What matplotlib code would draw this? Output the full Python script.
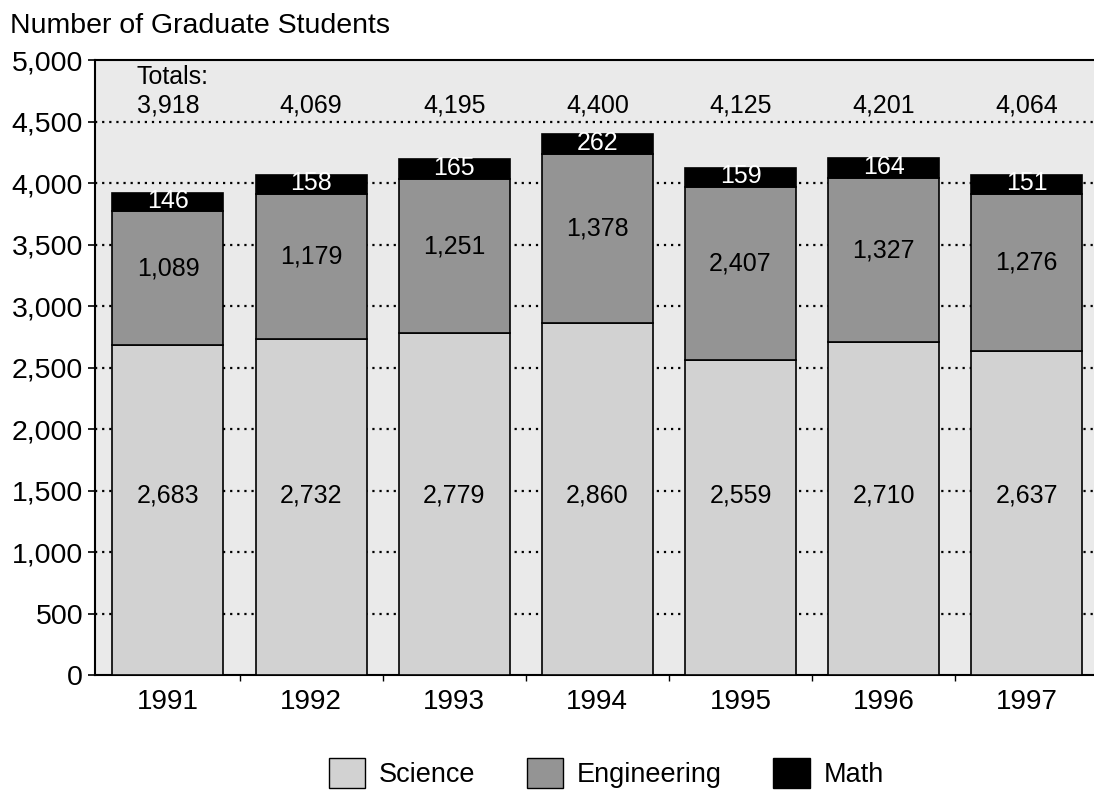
import matplotlib.pyplot as plt
from matplotlib.patches import Patch

plt.rcParams['font.family'] = ['Liberation Sans', 'DejaVu Sans']

years = ['1991', '1992', '1993', '1994', '1995', '1996', '1997']
science = [2683, 2732, 2779, 2860, 2559, 2710, 2637]
engineering = [1089, 1179, 1251, 1378, 1407, 1327, 1276]
math = [146, 158, 165, 162, 159, 164, 151]
# labels as printed on the original chart
science_labels = ['2,683', '2,732', '2,779', '2,860', '2,559', '2,710', '2,637']
eng_labels = ['1,089', '1,179', '1,251', '1,378', '2,407', '1,327', '1,276']
math_labels = ['146', '158', '165', '262', '159', '164', '151']
totals = ['3,918', '4,069', '4,195', '4,400', '4,125', '4,201', '4,064']

bg = '#eaeaea'
sci_col = '#d2d2d2'
eng_col = '#949494'

fig = plt.figure(figsize=(10.94, 7.97), dpi=100)
ax = fig.add_axes([0.0868, 0.153, 0.9132, 0.7717])
ax.set_facecolor(bg)

x = list(range(len(years)))
w = 0.775
eng_bottom = science
math_bottom = [s + e for s, e in zip(science, engineering)]

ax.bar(x, science, w, color=sci_col, edgecolor='black', linewidth=1.2, zorder=3)
ax.bar(x, engineering, w, bottom=eng_bottom, color=eng_col, edgecolor='black', linewidth=1.2, zorder=3)
ax.bar(x, math, w, bottom=math_bottom, color='black', edgecolor='black', linewidth=1.2, zorder=3)

fs = 18
for i in x:
    ax.text(i, 1460, science_labels[i], ha='center', va='center', fontsize=fs, zorder=4)
    ax.text(i, science[i] + engineering[i] / 2 + 80, eng_labels[i], ha='center', va='center',
            fontsize=fs, zorder=4)
    ax.text(i, math_bottom[i] + math[i] / 2 + 10, math_labels[i], ha='center', va='center',
            fontsize=fs, color='white', zorder=4)
    ax.text(i, 4630, totals[i], ha='center', va='center', fontsize=fs, zorder=4)
ax.text(-0.22, 4865, 'Totals:', ha='left', va='center', fontsize=fs, zorder=4)

ax.set_ylim(0, 5000)
ax.set_xlim(-0.51, 6.47)
ax.set_yticks(range(0, 5001, 500))
ax.set_yticklabels([f'{v:,}' for v in range(0, 5001, 500)], fontsize=20.5)
ax.set_xticks(x)
ax.set_xticklabels(years, fontsize=20)
ax.tick_params(axis='x', length=0, pad=10)
ax.tick_params(axis='y', length=5, width=1.2, pad=3.5)
ax.set_xticks([i + 0.5 for i in x[:-1]], minor=True)
ax.tick_params(axis='x', which='minor', length=4, width=1)

for v in range(500, 5000, 500):
    ax.axhline(v, color='black', linestyle=(0, (1, 2.2)), linewidth=1.6, zorder=1)

ax.spines['right'].set_visible(False)
for s in ['left', 'bottom', 'top']:
    ax.spines[s].set_linewidth(1.5)

fig.text(0.009, 0.968, 'Number of Graduate Students', fontsize=20.5, ha='left', va='center')

handles = [Patch(facecolor=sci_col, edgecolor='black', label='Science'),
           Patch(facecolor=eng_col, edgecolor='black', label='Engineering'),
           Patch(facecolor='black', edgecolor='black', label='Math')]
fig.legend(handles=handles, loc='center', bbox_to_anchor=(0.554, 0.03), ncol=3, frameon=False,
           fontsize=19.5, handlelength=1.35, handleheight=1.35, columnspacing=1.9, handletextpad=0.5)

fig.savefig('out.png', dpi=100)
